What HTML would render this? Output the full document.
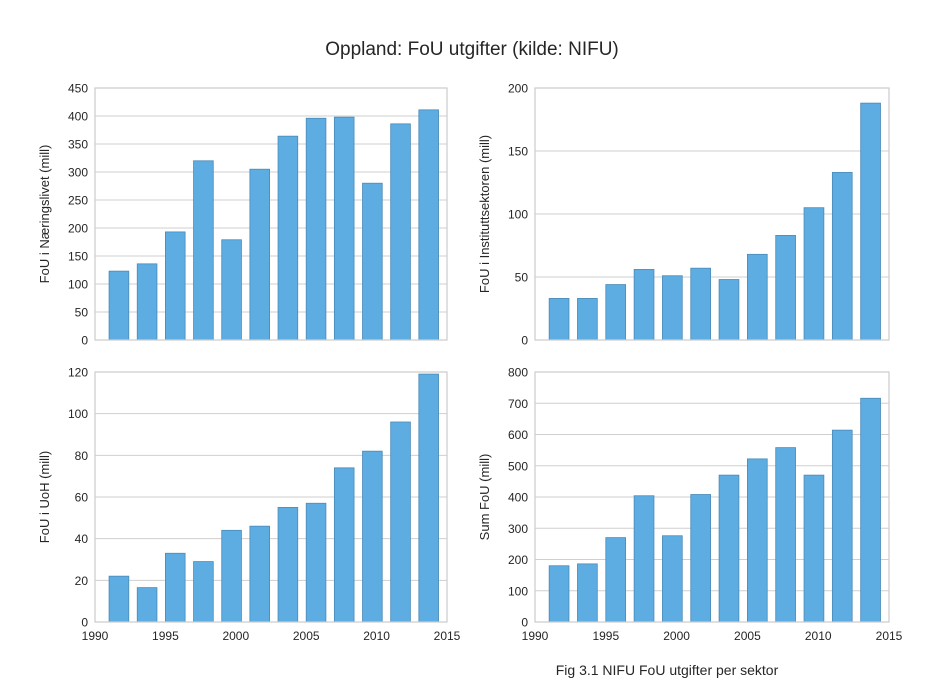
<!DOCTYPE html>
<html><head><meta charset="utf-8"><style>
body{margin:0;background:#fff;font-family:"Liberation Sans",Arial,sans-serif}
svg text{font-family:"Liberation Sans",Arial,sans-serif;fill:#262626}
</style></head><body>
<svg id="c" width="944" height="686" viewBox="0 0 944 686">
<text x="472" y="55" font-size="19" text-anchor="middle">Oppland: FoU utgifter (kilde: NIFU)</text>
<text x="667" y="675" font-size="14" text-anchor="middle">Fig 3.1 NIFU FoU utgifter per sektor</text>
</svg>
<script>
const years=[1991,1993,1995,1997,1999,2001,2003,2005,2007,2009,2011,2013];
const naering=[123,136,193,320,179,305,364,396,398,280,386,411];
const institutt=[33,33,44,56,51,57,48,68,83,105,133,188];
const uoh=[22,16.5,33,29,44,46,55,57,74,82,96,119];
const sum=[180,186,270,404,276,408,470,522,558,470,614,716];
const xTicks=[1990,1995,2000,2005,2010,2015];
const ticksNaering=[0,50,100,150,200,250,300,350,400,450];
const ticksInst=[0,50,100,150,200];
const ticksUoh=[0,20,40,60,80,100,120];
const ticksSum=[0,100,200,300,400,500,600,700,800];
const NS='http://www.w3.org/2000/svg';
const svg=document.getElementById('c');
function mk(t,a,p){const e=document.createElementNS(NS,t);for(const k in a)e.setAttribute(k,a[k]);(p||svg).appendChild(e);return e;}
function panel(id,x0,y0,x1,y1,vals,ticks,ylabel,showX){
  const g=mk('g',{});
  
  
  const ymax=ticks[ticks.length-1];
  const sx=v=>x0+(v-1990)/25*(x1-x0);
  const sy=v=>y1-v/ymax*(y1-y0);
  ticks.forEach(t=>{
    const l=mk('line',{x1:x0,x2:x1,y1:sy(t),y2:sy(t),stroke:'#cfcfcf','stroke-width':1},g);
    
    
    const tx=mk('text',{x:x0-7,y:sy(t)+4.5,'font-size':12,'text-anchor':'end'},g);
    tx.textContent=t;
    
    
  });
  years.forEach((yr,i)=>{
    const r=mk('rect',{x:sx(yr),y:sy(vals[i]),width:sx(yr+1.4)-sx(yr),height:y1-sy(vals[i]),fill:'#5dade2',stroke:'#4a8ab8','stroke-width':0.8},g);
    
    
  });
  const f=mk('rect',{x:x0,y:y0,width:x1-x0,height:y1-y0,fill:'none',stroke:'#cccccc','stroke-width':1.2},g);
  
  
  if(showX) xTicks.forEach(t=>{
    const tx=mk('text',{x:sx(t),y:y1+18,'font-size':12,'text-anchor':'middle'},g);
    tx.textContent=t;
    
    
  });
  const yl=mk('text',{x:0,y:0,'font-size':13,'text-anchor':'middle',transform:`translate(${x0-46},${(y0+y1)/2}) rotate(-90)`},g);
  yl.textContent=ylabel;
  
  
}
panel('panel-naeringslivet',95,88,447,340,naering,ticksNaering,'FoU i Næringslivet (mill)',false);
panel('panel-instituttsektoren',535,88,889,340,institutt,ticksInst,'FoU i Instituttsektoren (mill)',false);
panel('panel-uoh',95,372,447,622,uoh,ticksUoh,'FoU i UoH (mill)',true);
panel('panel-sum',535,372,889,622,sum,ticksSum,'Sum FoU (mill)',true);
</script>
</body></html>
